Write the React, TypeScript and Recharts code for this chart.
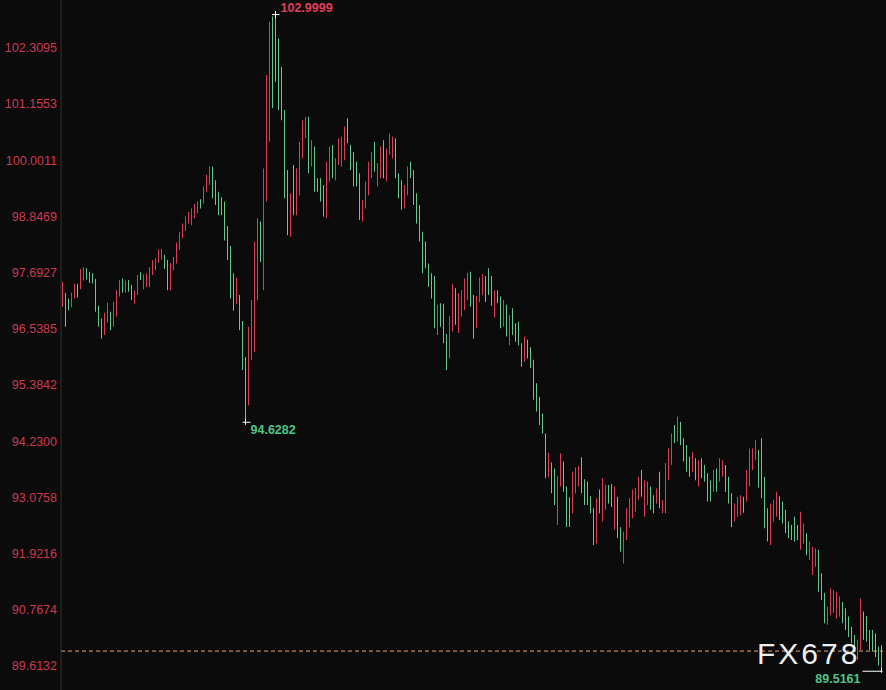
import { BarChart, Bar, XAxis, YAxis, Cell, ReferenceLine, ReferenceDot } from 'recharts';

// bar highs / lows (left to right)
const highs = [
  97.50, 97.27, 97.16, 97.28, 97.46, 97.46, 97.76, 97.80, 97.78, 97.71,
  97.68, 97.56, 97.01, 96.75, 96.86, 97.07, 96.89, 97.09, 97.33, 97.54,
  97.57, 97.53, 97.54, 97.44, 97.33, 97.64, 97.70, 97.66, 97.68, 97.80,
  97.95, 97.99, 98.17, 98.18, 98.06, 97.95, 97.89, 98.01, 98.31, 98.53,
  98.70, 98.85, 98.94, 99.01, 99.10, 99.15, 99.20, 99.46, 99.70, 99.87,
  99.87, 99.59, 99.35, 99.24, 99.15, 98.65, 98.24, 97.68, 97.59, 97.23,
  96.70, 95.96, 96.58, 97.13, 98.33, 98.81, 98.74, 99.83, 101.75, 102.84,
  102.95, 102.9999, 102.50, 101.92, 101.03, 99.80, 99.32, 99.90, 99.83, 100.38,
  100.82, 100.89, 100.89, 100.41, 100.28, 99.63, 99.63, 99.49, 99.97, 100.28,
  100.31, 100.04, 100.45, 100.48, 100.69, 100.86, 100.31, 100.17, 99.97, 99.73,
  99.18, 99.56, 99.97, 100.17, 100.38, 99.94, 100.28, 100.41, 100.24, 100.55,
  100.48, 100.45, 99.73, 99.59, 99.49, 99.87, 99.97, 99.80, 99.32, 99.08,
  98.53, 98.33, 97.88, 97.68, 97.62, 97.03, 97.06, 97.05, 96.43, 96.80,
  97.46, 97.37, 97.27, 97.33, 97.57, 97.69, 97.71, 97.23, 97.21, 97.59,
  97.66, 97.62, 97.78, 97.62, 97.33, 97.33, 97.20, 97.13, 97.03, 96.82,
  96.96, 96.65, 96.68, 96.24, 96.38, 96.31, 96.16, 95.90, 95.42, 95.14,
  94.80, 94.39, 93.99, 93.79, 93.67, 93.51, 93.98, 93.81, 93.30, 93.08,
  93.60, 93.69, 93.72, 93.90, 93.45, 93.40, 93.10, 92.85, 93.06, 93.24,
  93.47, 93.33, 93.33, 93.35, 93.30, 93.09, 92.46, 92.37, 92.85, 93.06,
  93.23, 93.27, 93.50, 93.64, 93.43, 93.40, 93.30, 93.12, 93.26, 93.60,
  93.02, 93.78, 94.08, 94.39, 94.56, 94.73, 94.63, 94.29, 94.15, 93.91,
  94.01, 93.88, 93.84, 93.88, 93.74, 93.57, 93.43, 93.64, 93.67, 93.88,
  93.84, 93.74, 93.50, 93.16, 92.95, 93.09, 93.12, 93.09, 93.64, 94.08,
  94.08, 94.25, 94.05, 94.29, 93.50, 92.85, 92.95, 93.02, 93.19, 93.10,
  92.99, 92.82, 92.58, 92.51, 92.68, 92.51, 92.78, 92.54, 92.34, 92.17,
  92.06, 92.03, 92.00, 91.52, 91.11, 90.83, 91.21, 91.17, 91.14, 91.04,
  90.93, 90.80, 90.63, 90.42, 90.25, 90.15, 91.00, 90.73, 90.64, 90.35,
  90.35, 90.28, 90.01, 90.04,
];

const lows = [
  96.99, 96.58, 96.92, 96.98, 97.16, 97.18, 97.35, 97.53, 97.55, 97.48,
  97.47, 96.89, 96.58, 96.34, 96.41, 96.66, 96.51, 96.58, 96.79, 97.20,
  97.28, 97.28, 97.30, 97.13, 97.05, 97.23, 97.54, 97.35, 97.39, 97.39,
  97.64, 97.74, 97.89, 97.96, 97.77, 97.33, 97.33, 97.74, 97.88, 98.16,
  98.40, 98.55, 98.70, 98.67, 98.81, 98.91, 99.01, 99.11, 99.35, 99.49,
  99.22, 99.08, 98.87, 98.87, 98.35, 97.95, 97.16, 96.91, 97.05, 96.51,
  95.69, 94.6282, 94.97, 95.90, 96.06, 97.13, 97.91, 97.33, 99.15, 100.38,
  101.07, 101.61, 101.03, 100.82, 99.22, 98.46, 98.43, 98.87, 98.87, 99.28,
  100.04, 100.45, 99.73, 99.87, 99.35, 99.35, 99.15, 98.84, 98.81, 99.56,
  99.63, 99.59, 99.90, 99.87, 100.00, 100.35, 99.80, 99.46, 99.46, 98.77,
  98.74, 99.01, 99.28, 99.63, 99.76, 99.46, 99.63, 99.63, 99.56, 100.11,
  100.04, 99.63, 99.22, 98.98, 99.01, 99.28, 99.63, 99.08, 98.70, 98.33,
  97.68, 97.78, 97.40, 97.16, 96.55, 96.41, 96.58, 96.24, 95.69, 95.93,
  96.48, 96.62, 96.45, 96.79, 96.92, 97.13, 96.99, 96.34, 96.55, 97.09,
  97.23, 97.09, 97.23, 97.01, 96.77, 97.06, 96.55, 96.58, 96.38, 96.20,
  96.41, 96.27, 96.20, 95.76, 95.86, 95.93, 95.73, 95.08, 94.84, 94.56,
  94.39, 93.47, 93.49, 93.16, 92.92, 92.51, 93.30, 93.19, 92.47, 92.47,
  92.75, 93.16, 93.30, 93.16, 92.92, 92.92, 92.75, 92.10, 92.13, 92.75,
  92.58, 92.82, 92.95, 92.88, 92.41, 92.24, 91.96, 91.72, 92.20, 92.47,
  92.65, 92.78, 93.02, 93.09, 92.68, 92.92, 92.82, 92.75, 92.95, 92.85,
  92.75, 92.75, 93.43, 93.74, 94.19, 94.22, 94.15, 93.81, 93.60, 93.50,
  93.60, 93.43, 93.30, 93.47, 93.40, 92.99, 92.99, 93.19, 93.19, 93.40,
  93.50, 93.19, 92.95, 92.46, 92.58, 92.68, 92.71, 92.76, 92.99, 93.30,
  93.64, 93.84, 93.28, 93.06, 92.44, 92.17, 92.10, 92.58, 92.68, 92.61,
  92.54, 92.34, 92.24, 92.20, 92.17, 92.20, 92.00, 92.13, 91.89, 91.79,
  91.48, 91.65, 91.14, 90.97, 90.49, 90.46, 90.66, 90.70, 90.59, 90.63,
  90.49, 90.35, 90.21, 90.08, 89.91, 89.74, 89.94, 90.15, 90.11, 89.94,
  89.91, 89.80, 89.63, 89.5161,
];

// r = closed up (red), g = closed down (green)
const dirs =
  'rggrrgrrgg' + 'ggggrrgrrr' + 'grggrrgrrr' + 'rrrrggrrrr' + 'rrrrrrgrrr' +
  'ggggggggrg' + 'ggrrrrgrrr' + 'ggggggrgrr' + 'rrgrggggrr' + 'grrrrggggg' +
  'rrrrgrrgrr' + 'rgggrrgggg' + 'gggggrgggr' + 'rgrrrrggrr' + 'rgggrggrgr' +
  'ggggrggggg' + 'ggrggrrggg' + 'rrrgggggrg' + 'rrggrggrrr' + 'rrrgrrggrg' +
  'rrrrgrgggg' + 'rgrggggrgr' + 'rgggrrrgrr' + 'rrggggrrrg' + 'ggggggrrgr' +
  'rrgggrrrrr' + 'gggggrrggg' + 'gggg';

const yTicks = [
  102.3095, 101.1553, 100.0011, 98.8469, 97.6927, 96.5385,
  95.3842, 94.23, 93.0758, 91.9216, 90.7674, 89.6132,
];
const yDomain = [89.1205, 103.289];
const refLevel = 89.92;

const UP = '#dc3d52';
const DOWN = '#62c98e';
const FONT = 'Arial, "Liberation Sans", sans-serif';

const data = highs.map((h, i) => ({ idx: i, range: [lows[i], h], up: dirs[i] === 'r' }));

const hiIdx = highs.indexOf(Math.max(...highs));
const loIdx = lows.indexOf(Math.min(...lows));
const localLoIdx = lows.indexOf(Math.min(...lows.slice(0, 120)));

const HighMark = ({ cx, cy }: any) => (
  <g>
    <line x1={cx - 3.5} x2={cx + 4} y1={cy + 0.5} y2={cy + 0.5} stroke="#fff" />
    <line x1={cx} x2={cx} y1={cy - 3} y2={cy + 4} stroke="#fff" />
    <text x={cx + 5} y={cy - 2} fill="#e23e5a" fontSize={12.5} fontWeight="bold" fontFamily={FONT}>
      {highs[hiIdx].toFixed(4)}
    </text>
  </g>
);

const LocalLowMark = ({ cx, cy }: any) => (
  <g>
    <line x1={cx - 3} x2={cx + 5} y1={cy + 0.5} y2={cy + 0.5} stroke="#fff" />
    <line x1={cx} x2={cx} y1={cy - 3} y2={cy + 3} stroke="#fff" />
    <text x={cx + 5} y={cy + 12} fill="#4fc487" fontSize={12.5} fontWeight="bold" fontFamily={FONT}>
      {lows[localLoIdx].toFixed(4)}
    </text>
  </g>
);

const LowMark = ({ cx, cy }: any) => (
  <g>
    <line x1={cx - 19} x2={cx + 1} y1={cy + 0.5} y2={cy + 0.5} stroke="#fff" />
    <line x1={cx} x2={cx} y1={cy - 3} y2={cy + 2} stroke="#fff" />
    <text x={cx - 21} y={cy + 12} textAnchor="end" fill="#4fc487" fontSize={12.5} fontWeight="bold" fontFamily={FONT}>
      {lows[loIdx].toFixed(4)}
    </text>
  </g>
);

export default function App() {
  return (
    <div style={{ position: 'absolute', left: 0, top: 0, width: 886, height: 690, background: '#0b0b0b', overflow: 'hidden' }}>
      <BarChart width={886} height={690} data={data} margin={{ top: 0, right: 3, bottom: 0, left: 0 }} barCategoryGap={0}>
        <XAxis dataKey="idx" hide height={0} />
        <YAxis
          type="number"
          domain={yDomain}
          ticks={yTicks}
          interval={0}
          allowDataOverflow
          width={61}
          tickLine={false}
          tickSize={2}
          tickMargin={2}
          axisLine={{ stroke: '#333' }}
          tick={{ fill: '#cc3a4e', fontSize: 12.5, fontFamily: FONT }}
          tickFormatter={(v: number) => v.toFixed(4)}
        />
        <Bar dataKey="range" barSize={1} isAnimationActive={false}>
          {data.map((d) => (
            <Cell key={d.idx} fill={d.up ? UP : DOWN} />
          ))}
        </Bar>
        <ReferenceLine y={refLevel} stroke="#e6a878" strokeDasharray="4 3" />
        <ReferenceDot x={hiIdx} y={highs[hiIdx]} shape={HighMark} />
        <ReferenceDot x={localLoIdx} y={lows[localLoIdx]} shape={LocalLowMark} />
        <ReferenceDot x={loIdx} y={lows[loIdx]} shape={LowMark} />
      </BarChart>
      <div
        style={{
          position: 'absolute',
          left: 757,
          top: 639,
          fontFamily: FONT,
          fontSize: 30,
          lineHeight: '30px',
          letterSpacing: 3,
          color: '#eeeeee',
        }}
      >
        FX678
      </div>
    </div>
  );
}
